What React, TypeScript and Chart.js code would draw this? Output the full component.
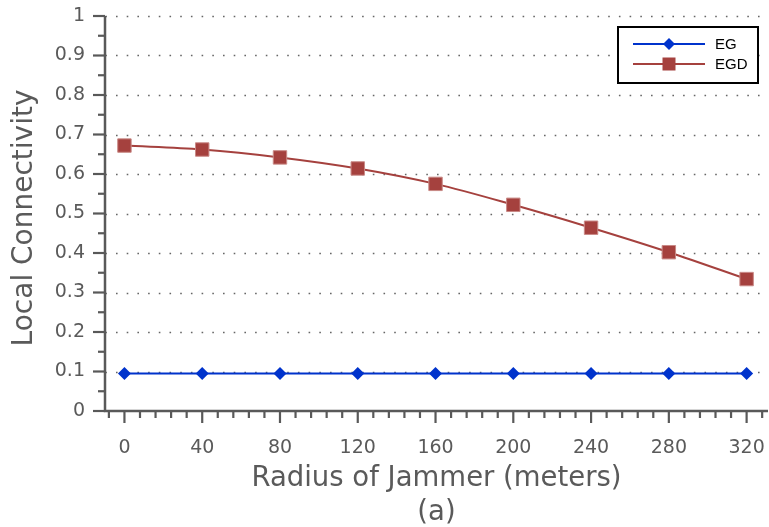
import React, { useEffect, useRef } from 'react';
import { Chart, registerables } from 'chart.js';

Chart.register(...registerables);

// Jammer radius (meters) on the x axis
const radius = [0, 40, 80, 120, 160, 200, 240, 280, 320];
// Local connectivity per scheme
const egValues = [0.095, 0.095, 0.095, 0.095, 0.095, 0.095, 0.095, 0.095, 0.095];
const egdValues = [0.672, 0.662, 0.642, 0.614, 0.575, 0.522, 0.464, 0.402, 0.334];
const seriesNames = ['EG', 'EGD'];
const yTicks = [0, 0.1, 0.2, 0.3, 0.4, 0.5, 0.6, 0.7, 0.8, 0.9, 1];
const yMinorTicks = [0.05, 0.15, 0.25, 0.35, 0.45, 0.55, 0.65, 0.75, 0.85, 0.95];
const xMinorTicks = [-8, 8, 16, 24, 32, 48, 56, 64, 72, 88, 96, 104, 112, 128, 136, 144, 152, 168, 176, 184, 192, 208, 216, 224, 232, 248, 256, 264, 272, 288, 296, 304, 312, 328];
const xTitle = ['Radius of Jammer (meters)', '(a)'];
const yTitle = 'Local Connectivity ';

const BLUE = '#0033cc';
const RED = '#a5413e';
const AXIS = '#595959';
const TEXT = '#5a5a5a';
const FONT = '"DejaVu Sans", Lato, sans-serif';

const framePlugin = {
  id: 'frame',
  beforeDatasetsDraw(chart: any) {
    const { ctx, chartArea, scales } = chart;
    const y = scales.y;
    ctx.save();
    ctx.strokeStyle = '#666666';
    ctx.lineWidth = 1.6;
    ctx.setLineDash([1.6, 9.1]);
    ctx.lineDashOffset = -11;
    yTicks.forEach((v) => {
      if (v === 0) return;
      const py = Math.round(y.getPixelForValue(v)) + 0.5;
      ctx.beginPath();
      ctx.moveTo(chartArea.left, py);
      ctx.lineTo(chartArea.right, py);
      ctx.stroke();
    });
    ctx.restore();
  },
  afterDatasetsDraw(chart: any) {
    const { ctx, chartArea, scales } = chart;
    const x = scales.x;
    const y = scales.y;
    ctx.save();
    ctx.strokeStyle = AXIS;
    ctx.lineWidth = 2.5;
    // axis lines
    ctx.beginPath();
    ctx.moveTo(chartArea.left, chartArea.top);
    ctx.lineTo(chartArea.left, chartArea.bottom);
    ctx.lineTo(chartArea.right, chartArea.bottom);
    ctx.stroke();
    // y ticks
    ctx.lineWidth = 2.2;
    yTicks.forEach((v) => {
      const py = y.getPixelForValue(v);
      ctx.beginPath();
      ctx.moveTo(chartArea.left - 12, py);
      ctx.lineTo(chartArea.left, py);
      ctx.stroke();
    });
    yMinorTicks.forEach((v) => {
      const py = y.getPixelForValue(v);
      ctx.beginPath();
      ctx.moveTo(chartArea.left - 7, py);
      ctx.lineTo(chartArea.left, py);
      ctx.stroke();
    });
    // x ticks
    radius.forEach((v) => {
      const px = x.getPixelForValue(v);
      ctx.beginPath();
      ctx.moveTo(px, chartArea.bottom);
      ctx.lineTo(px, chartArea.bottom + 12);
      ctx.stroke();
    });
    xMinorTicks.forEach((v) => {
      const px = x.getPixelForValue(v);
      ctx.beginPath();
      ctx.moveTo(px, chartArea.bottom);
      ctx.lineTo(px, chartArea.bottom + 7);
      ctx.stroke();
    });
    ctx.restore();
  },
  afterDraw(chart: any) {
    // boxed legend in the upper right corner
    const { ctx, chartArea } = chart;
    const bx = chartArea.right - 150;
    const by = chartArea.top + 11;
    const bw = 140;
    const bh = 56;
    ctx.save();
    ctx.fillStyle = '#ffffff';
    ctx.fillRect(bx, by, bw, bh);
    ctx.strokeStyle = '#000000';
    ctx.lineWidth = 2;
    ctx.strokeRect(bx, by, bw, bh);
    const colors = [BLUE, RED];
    seriesNames.forEach((name, i) => {
      const ly = by + 17 + i * 20;
      const x0 = bx + 15;
      const x1 = bx + 87;
      const cx = (x0 + x1) / 2;
      ctx.strokeStyle = colors[i];
      ctx.lineWidth = 2;
      ctx.beginPath();
      ctx.moveTo(x0, ly);
      ctx.lineTo(x1, ly);
      ctx.stroke();
      ctx.fillStyle = colors[i];
      ctx.beginPath();
      if (i === 0) {
        const r = 6;
        ctx.moveTo(cx - r, ly);
        ctx.lineTo(cx, ly - r);
        ctx.lineTo(cx + r, ly);
        ctx.lineTo(cx, ly + r);
        ctx.closePath();
      } else {
        const s = 6.5;
        ctx.rect(cx - s, ly - s, 2 * s, 2 * s);
      }
      ctx.fill();
      ctx.fillStyle = '#000000';
      ctx.font = '15px "Liberation Sans", Arial, sans-serif';
      ctx.textBaseline = 'middle';
      ctx.textAlign = 'left';
      ctx.fillText(name, bx + 97, ly + 1);
    });
    ctx.restore();
  },
};

export default function App() {
  const canvasRef = useRef<HTMLCanvasElement | null>(null);

  useEffect(() => {
    document.body.style.margin = '0';
    const canvas = canvasRef.current;
    if (!canvas) return;
    const chart = new Chart(canvas, {
      type: 'line',
      data: {
        datasets: [
          {
            label: seriesNames[0],
            data: radius.map((r, i) => ({ x: r, y: egValues[i] })),
            borderColor: BLUE,
            backgroundColor: BLUE,
            borderWidth: 2,
            pointStyle: 'rectRot',
            pointRadius: 6.5,
            pointBorderWidth: 0,
            pointBackgroundColor: BLUE,
            tension: 0,
          },
          {
            label: seriesNames[1],
            data: radius.map((r, i) => ({ x: r, y: egdValues[i] })),
            borderColor: RED,
            backgroundColor: RED,
            borderWidth: 2,
            pointStyle: 'rect',
            pointRadius: 9.5,
            pointBorderWidth: 1,
            pointBorderColor: '#c98a87',
            pointBackgroundColor: RED,
            cubicInterpolationMode: 'monotone',
          },
        ],
      },
      options: {
        animation: false,
        responsive: false,
        devicePixelRatio: 1,
        layout: { autoPadding: false, padding: { top: 16, right: 1, left: 0, bottom: 0 } },
        plugins: {
          legend: { display: false },
          tooltip: { enabled: false },
        },
        scales: {
          x: {
            type: 'linear',
            min: -10,
            max: 331,
            border: { display: false },
            grid: { display: false, drawTicks: false },
            afterBuildTicks: (scale: any) => {
              scale.ticks = radius.map((v) => ({ value: v }));
            },
            afterFit: (scale: any) => {
              scale.height = 116;
              scale.paddingLeft = 0;
              scale.paddingRight = 0;
            },
            ticks: {
              color: TEXT,
              font: { family: FONT, size: 19 },
              padding: 26,
              maxRotation: 0,
              autoSkip: false,
              callback: (v: any) => String(v),
            },
            title: {
              display: true,
              text: xTitle,
              color: TEXT,
              font: { family: FONT, size: 27.5, lineHeight: 1.25 },
              padding: { top: 8, bottom: -3 },
            },
          },
          y: {
            type: 'linear',
            min: 0,
            max: 1,
            border: { display: false },
            grid: { display: false, drawTicks: false },
            afterBuildTicks: (scale: any) => {
              scale.ticks = yTicks.map((v) => ({ value: v }));
            },
            afterFit: (scale: any) => {
              scale.width = 105;
              scale.paddingTop = 0;
              scale.paddingBottom = 0;
            },
            ticks: {
              color: TEXT,
              font: { family: FONT, size: 19 },
              padding: 20,
              autoSkip: false,
              callback: (v: any) => String(Math.round(Number(v) * 10) / 10),
            },
            title: {
              display: true,
              text: yTitle,
              color: TEXT,
              font: { family: FONT, size: 28 },
              padding: { top: 8, bottom: 0 },
            },
          },
        },
      },
      plugins: [framePlugin],
    });
    return () => chart.destroy();
  }, []);

  return (
    <div style={{ width: 769, height: 527, background: '#ffffff' }}>
      <canvas ref={canvasRef} width={769} height={527} style={{ display: 'block' }} />
    </div>
  );
}
